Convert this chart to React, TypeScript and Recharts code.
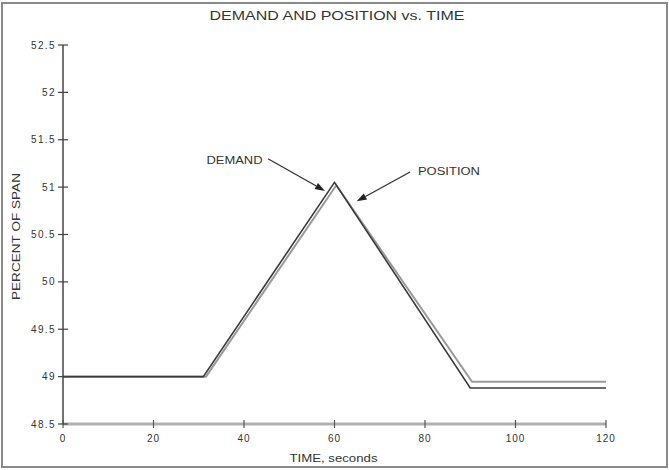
import { Line, LineChart, ReferenceDot, ReferenceLine, XAxis, YAxis } from "recharts";

// time (s) / percent of span
const demandTime = [0, 31, 60, 90, 120];
const demandValue = [49, 49, 51.05, 48.88, 48.88];
const positionTime = [0, 31.6, 60.4, 90.4, 120];
const positionValue = [49, 49, 51.02, 48.945, 48.945];

const xTicks = [0, 20, 40, 60, 80, 100, 120];
const xTickLabels = ["0", "20", "40", "60", "80", "100", "120"];
const yTicks = [48.5, 49, 49.5, 50, 50.5, 51, 51.5, 52, 52.5];
const yTickLabels = ["48.5", "49", "49.5", "50", "50.5", "51", "51.5", "52", "52.5"];

// annotation arrows: start -> tip, in data units
const demandArrowX = [45.3, 57.9];
const demandArrowY = [51.3, 50.96];
const positionArrowX = [76.7, 64.9];
const positionArrowY = [51.16, 50.85];
const demandTextAt = { x: 37.9, y: 51.28 };
const positionTextAt = { x: 85.3, y: 51.16 };

const demandData = demandTime.map((t, i) => ({ t, v: demandValue[i] }));
const positionData = positionTime.map((t, i) => ({ t, v: positionValue[i] }));

const FONT = "'Liberation Sans', Arial, sans-serif";
const TEXT = "#333";

function YTick(props: any) {
  const { x, y, payload } = props;
  const label = yTickLabels[yTicks.indexOf(payload.value)];
  return (
    <g>
      <line x1={x - 5} x2={x + 5} y1={y} y2={y} stroke="#444" strokeWidth={1.2} />
      <text x={x - 7} y={y} dy={3.5} textAnchor="end" fontSize={10} letterSpacing={1.4} fill={TEXT} fontFamily={FONT}>
        {label}
      </text>
    </g>
  );
}

function XTick(props: any) {
  const { x, y, payload } = props;
  const label = xTickLabels[xTicks.indexOf(payload.value)];
  return (
    <g>
      <line x1={x} x2={x} y1={y - 4} y2={y + 4} stroke="#555" strokeWidth={1.2} />
      <text x={x} y={y + 18} textAnchor="middle" fontSize={10} letterSpacing={1} fill={TEXT} fontFamily={FONT}>
        {label}
      </text>
    </g>
  );
}

function arrowShape(p: any) {
  const { x1, y1, x2, y2 } = p;
  const a = Math.atan2(y2 - y1, x2 - x1);
  const len = 10;
  const w = 3.5;
  const bx = x2 - len * Math.cos(a);
  const by = y2 - len * Math.sin(a);
  const nx = -Math.sin(a) * w;
  const ny = Math.cos(a) * w;
  return (
    <g>
      <line x1={x1} y1={y1} x2={bx} y2={by} stroke="#333" strokeWidth={1.3} />
      <polygon points={`${x2},${y2} ${bx + nx},${by + ny} ${bx - nx},${by - ny}`} fill="#222" />
    </g>
  );
}

const textLabel = (text: string, len: number) => (p: any) => {
  const vb = p.viewBox;
  return (
    <text x={vb.x} y={vb.y} dy={3.5} textAnchor="middle" fontSize={10} textLength={len} lengthAdjust="spacingAndGlyphs" fill={TEXT} fontFamily={FONT}>
      {text}
    </text>
  );
};

const xAxisLabel = (p: any) => {
  const vb = p.viewBox;
  return (
    <text x={vb.x + vb.width / 2 - 1} y={vb.y + 38} textAnchor="middle" fontSize={10} textLength={88} lengthAdjust="spacingAndGlyphs" fill={TEXT} fontFamily={FONT}>
      TIME, seconds
    </text>
  );
};

const yAxisLabel = (p: any) => {
  const vb = p.viewBox;
  const cx = vb.x + 20;
  const cy = vb.y + vb.height / 2 + 2;
  return (
    <text x={cx} y={cy} transform={`rotate(-90 ${cx} ${cy})`} textAnchor="middle" fontSize={10} textLength={127} lengthAdjust="spacingAndGlyphs" fill={TEXT} fontFamily={FONT}>
      PERCENT OF SPAN
    </text>
  );
};

export default function App() {
  return (
    <div style={{ position: "absolute", left: 0, top: 0, width: 669, height: 470, background: "#fff", fontFamily: FONT }}>
      <div style={{ position: "absolute", left: 1, top: 2, right: 1, bottom: 2, border: "2px solid #8a8a8a" }} />
      <div
        style={{
          position: "absolute",
          left: 337,
          top: 9,
          transform: "translateX(-50%) scaleX(1.28)",
          fontSize: 12.5,
          color: TEXT,
          whiteSpace: "nowrap",
        }}
      >
        DEMAND AND POSITION vs. TIME
      </div>
      <div style={{ position: "absolute", left: 0, top: 0 }}>
        <LineChart width={669} height={470} margin={{ top: 45, right: 63, bottom: 0, left: 0 }}>
          <XAxis
            dataKey="t"
            type="number"
            domain={[0, 120]}
            ticks={xTicks}
            height={46}
            tickSize={0}
            tickMargin={0}
            tickLine={false}
            tick={<XTick />}
            axisLine={{ stroke: "#b0b0b0", strokeWidth: 3 }}
            label={xAxisLabel}
            allowDataOverflow
          />
          <YAxis
            type="number"
            domain={[48.5, 52.5]}
            ticks={yTicks}
            width={63}
            tickSize={0}
            tickMargin={0}
            tickLine={false}
            tick={<YTick />}
            axisLine={{ stroke: "#444", strokeWidth: 1.5 }}
            label={yAxisLabel}
            allowDataOverflow
          />
          <Line data={positionData} dataKey="v" type="linear" stroke="#9a9a9a" strokeWidth={2} dot={false} isAnimationActive={false} />
          <Line data={demandData} dataKey="v" type="linear" stroke="#3a3a3a" strokeWidth={1.6} dot={false} isAnimationActive={false} />
          <ReferenceLine
            segment={[
              { x: demandArrowX[0], y: demandArrowY[0] },
              { x: demandArrowX[1], y: demandArrowY[1] },
            ]}
            shape={arrowShape}
          />
          <ReferenceLine
            segment={[
              { x: positionArrowX[0], y: positionArrowY[0] },
              { x: positionArrowX[1], y: positionArrowY[1] },
            ]}
            shape={arrowShape}
          />
          <ReferenceDot x={demandTextAt.x} y={demandTextAt.y} r={0} fill="none" stroke="none" label={textLabel("DEMAND", 56)} />
          <ReferenceDot x={positionTextAt.x} y={positionTextAt.y} r={0} fill="none" stroke="none" label={textLabel("POSITION", 62)} />
        </LineChart>
      </div>
    </div>
  );
}
